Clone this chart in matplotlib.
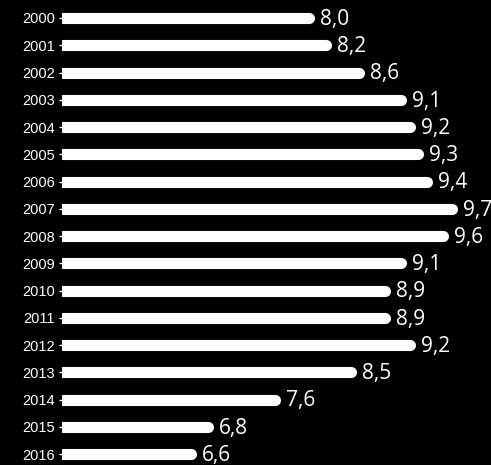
from matplotlib import pyplot as plt
import numpy as np

years = ['2000', '2001', '2002', '2003', '2004', '2005', '2006', '2007', '2008',
         '2009', '2010', '2011', '2012', '2013', '2014', '2015', '2016']
values = [8.0, 8.2, 8.6, 9.1, 9.2, 9.3, 9.4, 9.7, 9.6,
          9.1, 8.9, 8.9, 9.2, 8.5, 7.6, 6.8, 6.6]
x_start = 5.0

fig = plt.figure(figsize=(4.91, 4.65), dpi=100, facecolor='black')
ax = fig.add_axes([62 / 491, 0, 1 - 62 / 491, 1], facecolor='black')

y = np.arange(len(years))
# bars as thick round-capped strokes; the left cap gets clipped by the axes
for yi, v in zip(y, values):
    ax.plot([x_start, v - 0.065], [yi, yi], color='white', lw=8.0,
            solid_capstyle='round')

for yi, v in zip(y, values):
    ax.annotate(('%.1f' % v).replace('.', ','), (v, yi), xytext=(4, -1),
                textcoords='offset points', color='white', fontsize=15,
                family='Open Sans', va='center', ha='left')

ax.set_xlim(x_start, 10.1)
ax.set_ylim(16.4, -0.66)
ax.set_yticks(y)
ax.set_yticklabels(years, color='white', fontsize=10.5, family='Liberation Sans')
ax.tick_params(axis='y', length=2, width=1, color='white', pad=3)
ax.set_xticks([])
for s in ax.spines.values():
    s.set_visible(False)

plt.savefig('out.png', dpi=100, facecolor='black')
plt.close()
